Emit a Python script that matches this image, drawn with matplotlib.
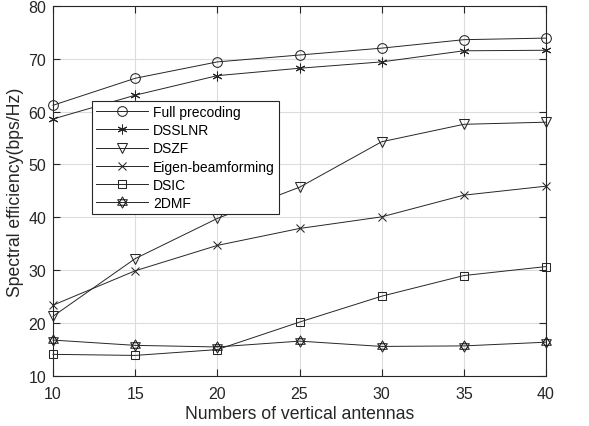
import matplotlib
matplotlib.use("Agg")
import matplotlib.pyplot as plt
from matplotlib.path import Path
import numpy as np

plt.rcParams['font.family'] = ['Liberation Sans', 'DejaVu Sans']

x = [10, 15, 20, 25, 30, 35, 40]
full_precoding = [61.2, 66.3, 69.4, 70.7, 72.0, 73.6, 73.9]
dsslnr = [58.6, 63.1, 66.8, 68.2, 69.4, 71.5, 71.6]
dszf = [21.3, 32.2, 39.8, 45.7, 54.3, 57.6, 58.0]
eigen = [23.4, 29.9, 34.7, 37.9, 40.1, 44.2, 45.9]
dsic = [14.1, 13.9, 15.0, 20.2, 25.1, 29.0, 30.7]
dmf2 = [16.8, 15.8, 15.5, 16.6, 15.6, 15.7, 16.4]

labels = ["Full precoding", "DSSLNR", "DSZF", "Eigen-beamforming", "DSIC", "2DMF"]

# hexagram marker
a = np.deg2rad([90, 210, 330])
b = np.deg2rad([270, 30, 150])
verts = [(np.cos(t), np.sin(t)) for t in a] + [(0, 0)] + [(np.cos(t), np.sin(t)) for t in b] + [(0, 0)]
codes = [Path.MOVETO, Path.LINETO, Path.LINETO, Path.CLOSEPOLY] * 2
hexagram = Path(verts, codes)

fig = plt.figure(figsize=(5.89, 4.27), dpi=100)
ax = fig.add_axes([0.09, 0.117, 0.837, 0.867])

col = '#262626'
lw = 0.7
series = [full_precoding, dsslnr, dszf, eigen, dsic, dmf2]
markers = ['o', (6, 2, 0), 'v', 'x', 's', hexagram]
sizes = [7, 7, 7.5, 5.5, 6, 8]
for ys, m, ms, lab in zip(series, markers, sizes, labels):
    ax.plot(x, ys, color=col, lw=lw, marker=m, markersize=ms, markerfacecolor='none',
            markeredgecolor=col, markeredgewidth=0.75, label=lab, clip_on=False, zorder=3)

ax.set_xlim(10, 40)
ax.set_ylim(10, 80)
ax.set_xticks(x)
ax.set_yticks(range(10, 81, 10))
ax.grid(True, color='#dcdcdc', lw=0.8)
ax.set_axisbelow(True)
ax.tick_params(direction='in', top=True, right=True, labelsize=11.5, colors='#262626', length=5, width=0.8)
ax.tick_params(axis='x', pad=7)
ax.tick_params(axis='y', pad=5)
for s in ax.spines.values():
    s.set_color('#262626')
    s.set_linewidth(0.8)
ax.set_xlabel("Numbers of vertical antennas", fontsize=12.7, color='#262626', labelpad=3)
ax.set_ylabel("Spectral efficiency(bps/Hz)", fontsize=12.7, color='#262626', labelpad=3)

leg = ax.legend(loc='upper left', bbox_to_anchor=(0.079, 0.743), borderaxespad=0,
                fontsize=10, handlelength=3.7, labelspacing=0.3, frameon=True,
                fancybox=False, edgecolor='#262626', framealpha=1, borderpad=0.3,
                handletextpad=0.4)
leg.get_frame().set_linewidth(0.8)
for t in leg.get_texts():
    t.set_color('#000000')

fig.savefig("out.png", dpi=100)
